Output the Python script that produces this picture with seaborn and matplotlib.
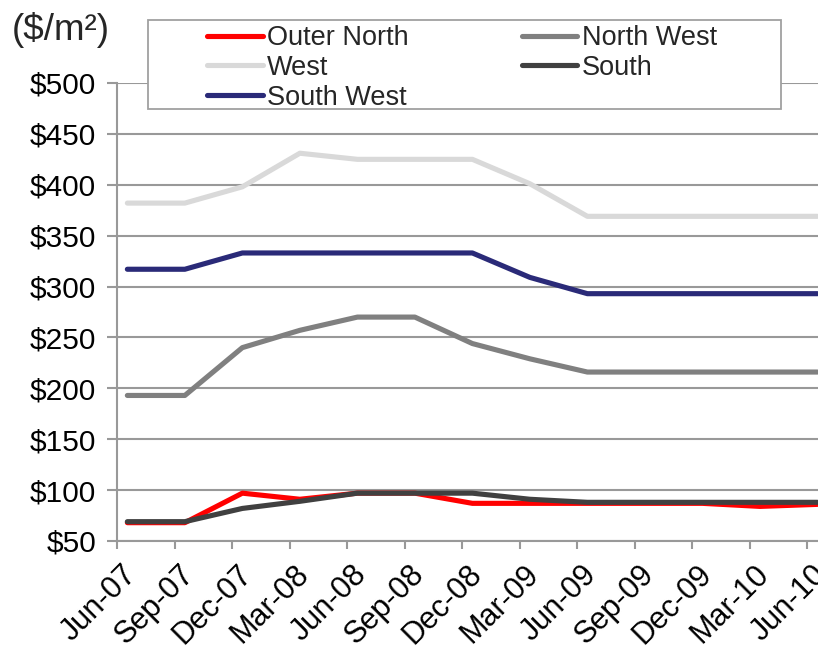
import matplotlib
matplotlib.use("Agg")
import matplotlib.pyplot as plt
import matplotlib.transforms as mtransforms
from matplotlib.patches import Rectangle
from matplotlib.lines import Line2D
import numpy as np
import pandas as pd
import seaborn as sns

# Quarterly periods
quarters = ["Jun-07", "Sep-07", "Dec-07", "Mar-08", "Jun-08", "Sep-08", "Dec-08",
            "Mar-09", "Jun-09", "Sep-09", "Dec-09", "Mar-10", "Jun-10"]

# Rents by region ($/m2)
outer_north = [68, 68, 97, 91, 97, 97, 87, 87, 87, 87, 87, 84, 86]
north_west = [193, 193, 240, 257, 270, 270, 244, 229, 216, 216, 216, 216, 216]
west = [382, 382, 398, 431, 425, 425, 425, 401, 369, 369, 369, 369, 369]
south = [69, 69, 82, 89, 97, 97, 97, 91, 88, 88, 88, 88, 88]
south_west = [317, 317, 333, 333, 333, 333, 333, 309, 293, 293, 293, 293, 293]

y_ticks = [50, 100, 150, 200, 250, 300, 350, 400, 450, 500]
y_tick_labels = ["$50", "$100", "$150", "$200", "$250", "$300", "$350", "$400", "$450", "$500"]

draw_order = ["Outer North", "North West", "West", "South", "South West"]
legend_order = ["Outer North", "West", "South West", "North West", "South"]
palette = {
    "Outer North": "#ff0000",
    "North West": "#808080",
    "West": "#d9d9d9",
    "South": "#404040",
    "South West": "#2a2a78",
}

series = {
    "Outer North": outer_north,
    "North West": north_west,
    "West": west,
    "South": south,
    "South West": south_west,
}

# points sit slightly after each quarter's tick mark
point_shift = 0.18
rows = []
for name, vals in series.items():
    for i, v in enumerate(vals):
        rows.append({"pos": i + point_shift, "Region": name, "Rent": v})
df = pd.DataFrame(rows)

sns.set_theme(style="white")
plt.rcParams["font.family"] = ["Liberation Sans", "DejaVu Sans"]

fig = plt.figure(figsize=(8.18, 6.49), dpi=100)
ax = fig.add_axes([117 / 818, 1 - 541 / 649, 1 - 117 / 818, (541 - 83) / 649])

sns.lineplot(data=df, x="pos", y="Rent", hue="Region", hue_order=draw_order,
             palette=palette, linewidth=3.7, ax=ax, legend=False,
             solid_capstyle="round", solid_joinstyle="round")

ax.set_xlim(0, 12.19)
ax.set_ylim(50, 500)
ax.set_xlabel("")
ax.set_ylabel("")

grid_c = "#999999"
ax.set_yticks(y_ticks)
ax.set_yticklabels(y_tick_labels, fontsize=21.5, color="black")
ax.set_xticks(np.arange(len(quarters)))
ax.set_xticklabels(quarters, fontsize=22, color="black", rotation=45,
                   ha="right", va="center", rotation_mode="anchor")
ax.yaxis.grid(True, color=grid_c, linewidth=1.5)
ax.xaxis.grid(False)
for side in ["top", "right"]:
    ax.spines[side].set_visible(False)
for side in ["left", "bottom"]:
    ax.spines[side].set_color(grid_c)
    ax.spines[side].set_linewidth(1.5)
ax.tick_params(axis="y", direction="out", length=7, width=1.5, color=grid_c, pad=8, left=True)
ax.tick_params(axis="x", direction="out", length=6, width=1.5, color=grid_c, pad=15, bottom=True)

offset = mtransforms.ScaledTranslation(15 / 100, 0, fig.dpi_scale_trans)
for lbl in ax.get_xticklabels():
    lbl.set_transform(lbl.get_transform() + offset)

# unit label
fig.text(12 / 818, 1 - 30 / 649, "($/m²)", fontsize=26.5, ha="left", va="center")

# legend box
box = Rectangle((148 / 818, 1 - 109 / 649), (781 - 148) / 818, (109 - 20) / 649,
                transform=fig.transFigure, facecolor="white", edgecolor="#a0a0a0",
                linewidth=1.3, zorder=5)
fig.add_artist(box)

handles = [Line2D([0], [0], color=palette[n], linewidth=3.7, solid_capstyle="round")
           for n in legend_order]
leg = fig.legend(handles, legend_order, ncol=2, frameon=False,
                 loc="upper left", bbox_to_anchor=(207 / 818, 1 - 25 / 649),
                 fontsize=19.5, handlelength=2.05, handletextpad=0.15,
                 columnspacing=4.2, labelspacing=0.14, borderaxespad=0, borderpad=0)
leg.set_zorder(6)

fig.savefig("out.png", dpi=100)
